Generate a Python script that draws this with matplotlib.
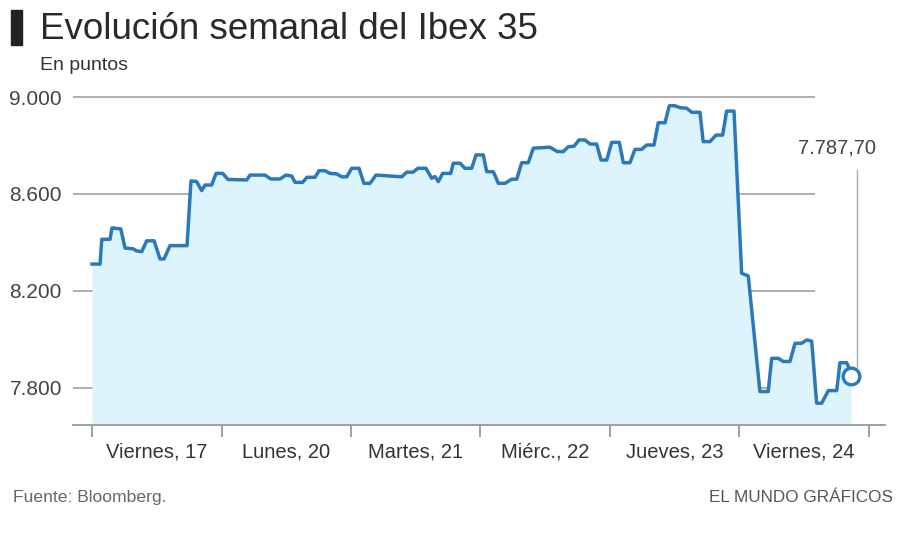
import matplotlib
matplotlib.use("Agg")
import matplotlib.pyplot as plt
from matplotlib.patches import Rectangle

# Ibex 35, position in trading days (0 = start of Viernes 17) and level in points
dias = [0.000, 0.062, 0.075, 0.139, 0.154, 0.222, 0.255, 0.317, 0.345, 0.384,
        0.422, 0.479, 0.525, 0.556, 0.602, 0.734, 0.764, 0.808, 0.847, 0.873,
        0.924, 0.958, 1.009, 1.050, 1.195, 1.220, 1.336, 1.380, 1.452, 1.498,
        1.542, 1.568, 1.627, 1.660, 1.722, 1.753, 1.799, 1.838, 1.890, 1.928,
        1.967, 2.005, 2.062, 2.100, 2.147, 2.193, 2.392, 2.430, 2.479, 2.517,
        2.579, 2.623, 2.649, 2.674, 2.708, 2.770, 2.790, 2.842, 2.880, 2.932,
        2.965, 3.022, 3.048, 3.099, 3.138, 3.189, 3.241, 3.280, 3.318, 3.369,
        3.408, 3.537, 3.593, 3.640, 3.678, 3.722, 3.761, 3.807, 3.846, 3.897,
        3.931, 3.975, 4.013, 4.072, 4.103, 4.154, 4.193, 4.244, 4.283, 4.340,
        4.373, 4.425, 4.458, 4.502, 4.541, 4.592, 4.631, 4.695, 4.720, 4.772,
        4.819, 4.870, 4.901, 4.958, 5.017, 5.068, 5.158, 5.222, 5.249, 5.300,
        5.338, 5.390, 5.429, 5.480, 5.519, 5.558, 5.596, 5.635, 5.686, 5.751,
        5.776, 5.828, 5.853, 5.861]
puntos = [8311, 8311, 8413, 8413, 8460, 8456, 8377, 8374, 8365, 8362,
          8407, 8407, 8332, 8332, 8387, 8387, 8654, 8651, 8614, 8637,
          8637, 8685, 8685, 8660, 8658, 8678, 8678, 8662, 8662, 8678,
          8674, 8648, 8648, 8669, 8669, 8696, 8696, 8685, 8683, 8671,
          8671, 8706, 8706, 8644, 8644, 8678, 8671, 8690, 8690, 8706,
          8706, 8665, 8672, 8651, 8685, 8685, 8727, 8727, 8706, 8706,
          8761, 8761, 8692, 8692, 8644, 8644, 8661, 8661, 8729, 8729,
          8789, 8793, 8775, 8775, 8795, 8797, 8823, 8823, 8806, 8806,
          8740, 8740, 8813, 8813, 8729, 8729, 8784, 8784, 8802, 8802,
          8894, 8894, 8964, 8964, 8956, 8954, 8937, 8937, 8816, 8816,
          8843, 8843, 8942, 8942, 8273, 8262, 7785, 7785, 7922, 7922,
          7909, 7909, 7984, 7984, 7998, 7993, 7737, 7737, 7789, 7789,
          7904, 7904, 7874, 7850]

dias_labels = ["Viernes, 17", "Lunes, 20", "Martes, 21", "Miérc., 22",
               "Jueves, 23", "Viernes, 24"]
y_ticks = [7800, 8200, 8600, 9000]
y_labels = ["7.800", "8.200", "8.600", "9.000"]
ultimo_label = "7.787,70"

W, H = 899, 535
FONT = ["Liberation Sans", "DejaVu Sans"]
plt.rcParams["font.family"] = FONT

LINE = "#2a79bb"
FILL = "#ddf4fc"
GRID = "#a9a9a9"


def px(x, y):
    """pixel (from top-left) -> figure fraction"""
    return x / W, 1 - y / H


fig = plt.figure(figsize=(W / 100, H / 100), dpi=100)
l, b = px(73, 425)
r, t = px(885, 90)
ax = fig.add_axes([l, b, r - l, t - b])

x0, x1 = -0.147, 6.124
y0, y1 = 7647, 9029
ax.set_xlim(x0, x1)
ax.set_ylim(y0, y1)

# gridlines stop short of the right edge
grid_end = (815 - 92) / 129.5
ax.hlines(y_ticks, x0, grid_end, color=GRID, lw=1.3, zorder=1)

ax.fill_between(dias, puntos, y0, color=FILL, lw=0, zorder=2)
ax.plot(dias, puntos, color=LINE, lw=2.5, solid_joinstyle="round", zorder=3)
ax.plot(dias[-1], puntos[-1], "o", ms=12, mfc="white", mec=LINE, mew=2.4, zorder=4)

# leader line + last value
lx = dias[-1] + 0.05
ax.plot([lx, lx], [puntos[-1] + 35, 8700], color=GRID, lw=1, zorder=1)
ax.text(dias[-1] - 0.11, 8790, ultimo_label, ha="center", va="center",
        fontsize=14.5, color="#444444")

for s in ["top", "right", "left"]:
    ax.spines[s].set_visible(False)
ax.spines["bottom"].set_color("#999999")
ax.spines["bottom"].set_linewidth(1.3)

ax.set_xticks(range(len(dias_labels) + 1))
ax.set_xticklabels([])
ax.tick_params(axis="x", which="major", length=8.5, width=1.3, color="#999999")
ax.set_xticks([i + 0.5 for i in range(len(dias_labels))], minor=True)
ax.set_xticklabels(dias_labels, minor=True, fontsize=14.5, color="#333333")
ax.tick_params(axis="x", which="minor", length=0, pad=12.5)

ax.set_yticks(y_ticks)
ax.set_yticklabels(y_labels, fontsize=15, color="#444444")
ax.tick_params(axis="y", length=0, pad=8)

# header
fig.patches.append(Rectangle(px(11, 45), 11 / W, 35 / H, color="#222222",
                             transform=fig.transFigure))
fig.text(*px(40, 39), "Evolución semanal del Ibex 35", fontsize=26.5,
         color="#2a2a2a", va="baseline")
fig.text(*px(40, 70), "En puntos", fontsize=14, color="#333333", va="baseline")

# footer
fig.text(*px(13, 502), "Fuente: Bloomberg.", fontsize=12.6, color="#666666",
         va="baseline")
fig.text(*px(893, 502), "EL MUNDO GRÁFICOS", fontsize=12.3, color="#555555",
         va="baseline", ha="right")

fig.savefig("out.png", dpi=100, facecolor="white")
